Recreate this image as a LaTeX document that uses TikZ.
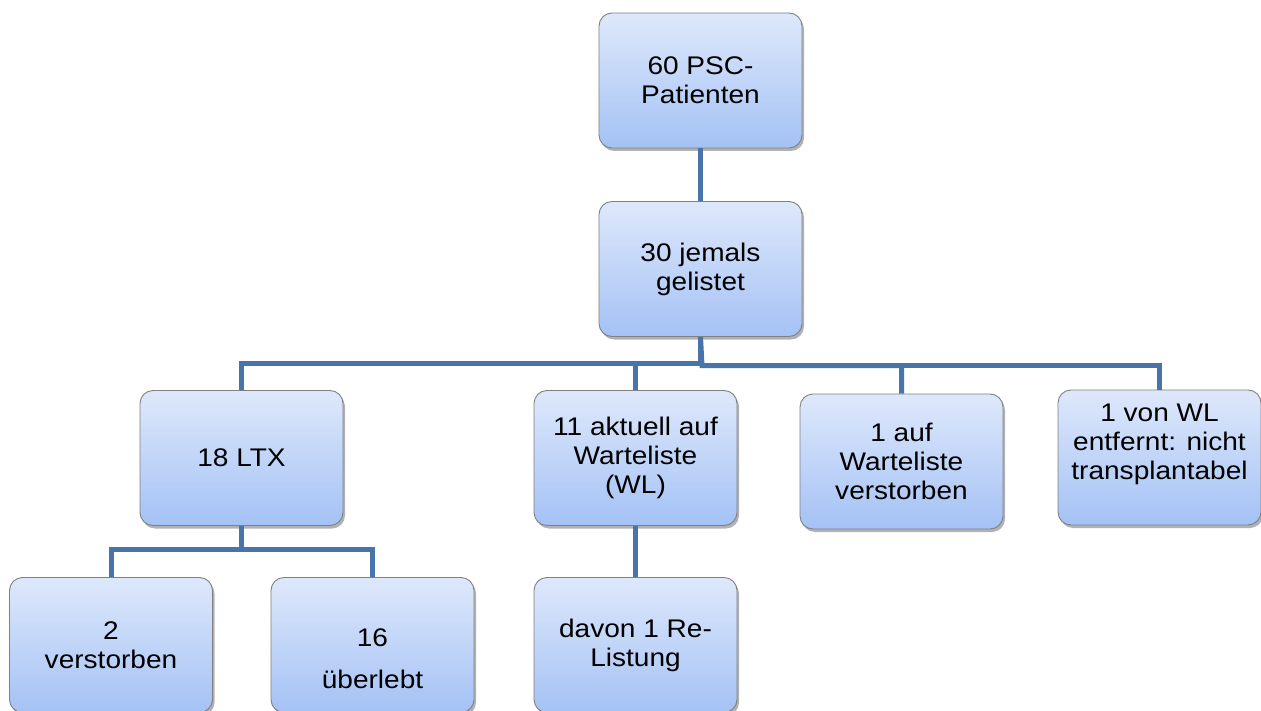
\documentclass[tikz,border=0pt]{standalone}
\usepackage{fontspec}
\setmainfont{Liberation Sans}[FakeStretch=1.1]
\usetikzlibrary{shadows}
\definecolor{linkblue}{RGB}{72,116,170}
\definecolor{boxtop}{RGB}{222,232,251}
\definecolor{boxbottom}{RGB}{164,194,245}
\definecolor{boxedge}{RGB}{128,128,128}
\tikzset{
  orgbox/.style={draw=boxedge, line width=0.9pt, rounded corners=13pt,
    top color=boxtop, bottom color=boxbottom,
    minimum width=203pt, minimum height=135pt, inner sep=4pt,
    align=center, font=\fontsize{25.5}{29}\selectfont,
    drop shadow={shadow xshift=2pt, shadow yshift=-3pt, opacity=0.3, fill=black}},
  link/.style={draw=linkblue, line width=5pt}
}
\begin{document}
\begin{tikzpicture}[x=1pt,y=-1pt]
\useasboundingbox (0,0) rectangle (1261,711);
% boxes
\node[orgbox] (top) at (700.5,80.5) {60 PSC-\\Patienten};
\node[orgbox] (jem) at (700.5,269) {30 jemals\\gelistet};
\node[orgbox] (ltx) at (241.5,458) {18 LTX};
\node[orgbox] (akt) at (635.5,458) {11 aktuell auf\\Warteliste\\(WL)};
\node[orgbox] (auf) at (901.5,461.5) {1 auf\\Warteliste\\verstorben};
\node[orgbox] (von) at (1159.5,457.5) {1 von WL\\entfernt: nicht\\transplantabel\\[-1pt]\rule{0pt}{26pt}};
\node[orgbox] (ver) at (111,645) {2\\verstorben};
\node[orgbox] (ueb) at (372.5,645) {\mbox{}\\[17pt]16\\[13pt]überlebt};
\node[orgbox] (dav) at (635.5,645) {davon 1 Re-\\Listung};
% bus points
\coordinate (b1) at (700.5,363);
\coordinate (b2) at (702,365.5);
\coordinate (b3) at (241.5,549);
% connectors
\draw[link] (top) -- (jem);
\draw[link] (jem.south) -- (b1) -| (ltx.north);
\draw[link] (b1) -| (akt.north);
\draw[link] (jem.south) -- (b2) -| (auf.north);
\draw[link] (b2) -| (von.north);
\draw[link] (ltx.south) -- (b3) -| (ver.north);
\draw[link] (b3) -| (ueb.north);
\draw[link] (akt) -- (dav);
\end{tikzpicture}
\end{document}
